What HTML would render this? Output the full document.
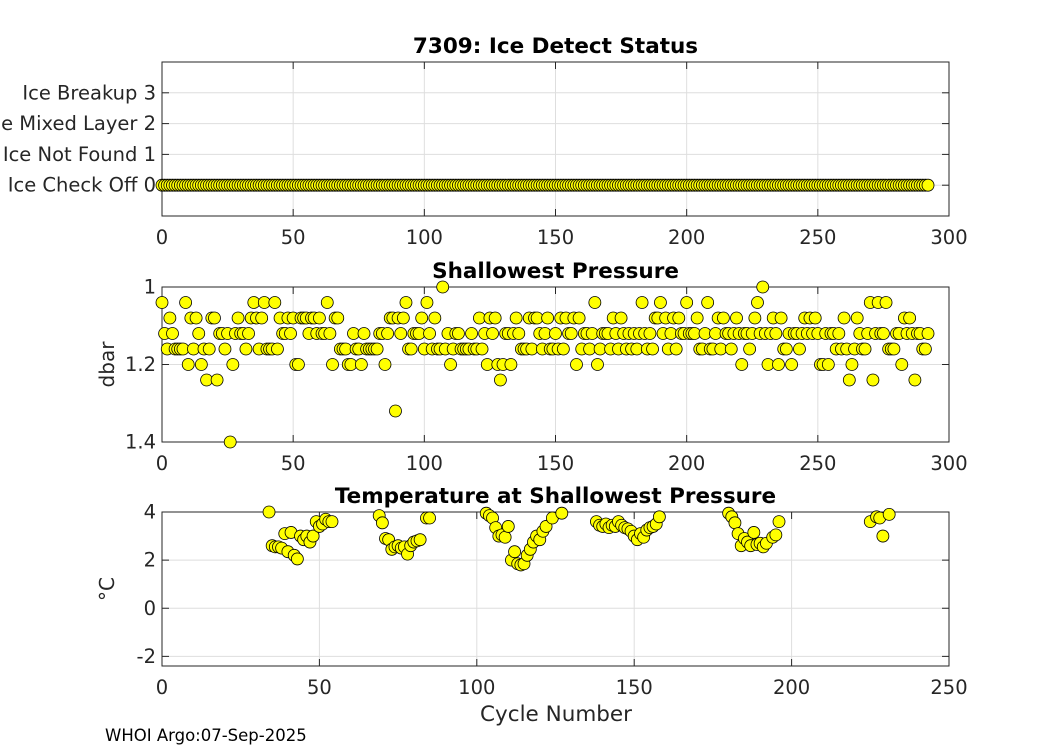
<!DOCTYPE html>
<html><head><meta charset="utf-8">
<style>
html,body{margin:0;padding:0;background:#fff;}
svg{display:block;font-family:"DejaVu Sans","Liberation Sans",sans-serif;}
</style></head>
<body>
<svg id="chart" width="1050" height="750" viewBox="0 0 1050 750"></svg>
<script>
// ---- data ----
const iceCycles = Array.from({length:293},(_,i)=>i);
const iceStatus = iceCycles.map(()=>0);
const iceTickValues = [0,1,2,3];
const iceTickLabels = ["Ice Check Off 0","Ice Not Found 1","Ice Mixed Layer 2","Ice Breakup 3"];

const pressureValues = [
1.04,1.12,1.16,1.08,1.12,1.16,1.16,1.16,1.16,1.04,
1.2,1.08,1.16,1.08,1.12,1.2,1.16,1.24,1.16,1.08,
1.08,1.24,1.12,1.12,1.16,1.12,1.4,1.2,1.12,1.08,
1.12,1.12,1.16,1.12,1.08,1.04,1.08,1.16,1.08,1.04,
1.16,1.16,1.16,1.04,1.16,1.08,1.12,1.12,1.08,1.12,
1.08,1.2,1.2,1.08,1.08,1.08,1.12,1.08,1.08,1.12,
1.08,1.12,1.12,1.04,1.12,1.2,1.08,1.08,1.16,1.16,
1.16,1.2,1.2,1.12,1.16,1.16,1.2,1.12,1.16,1.16,
1.16,1.16,1.16,1.12,1.12,1.2,1.12,1.08,1.08,1.32,
1.08,1.12,1.08,1.04,1.16,1.16,1.12,1.12,1.12,1.08,
1.16,1.04,1.12,1.16,1.08,1.16,1.16,1.0,1.16,1.12,
1.2,1.16,1.12,1.12,1.16,1.16,1.16,1.16,1.12,1.16,
1.16,1.08,1.16,1.12,1.2,1.08,1.12,1.08,1.2,1.24,
1.2,1.12,1.12,1.2,1.12,1.08,1.12,1.16,1.16,1.16,
1.08,1.16,1.08,1.08,1.12,1.16,1.12,1.08,1.16,1.16,
1.12,1.16,1.08,1.16,1.08,1.12,1.12,1.08,1.2,1.08,
1.16,1.12,1.12,1.16,1.12,1.04,1.2,1.16,1.12,1.12,
1.12,1.16,1.08,1.12,1.16,1.08,1.12,1.16,1.12,1.16,
1.12,1.16,1.12,1.04,1.12,1.16,1.12,1.16,1.08,1.08,
1.04,1.12,1.08,1.16,1.12,1.08,1.16,1.08,1.12,1.12,
1.04,1.12,1.12,1.12,1.08,1.16,1.16,1.12,1.04,1.16,
1.16,1.12,1.08,1.16,1.08,1.12,1.12,1.16,1.12,1.08,
1.12,1.2,1.12,1.12,1.16,1.12,1.08,1.04,1.12,1.0,
1.12,1.2,1.12,1.08,1.12,1.2,1.08,1.16,1.16,1.12,
1.2,1.12,1.12,1.16,1.12,1.08,1.12,1.08,1.12,1.08,
1.12,1.2,1.2,1.12,1.2,1.12,1.12,1.16,1.12,1.16,
1.08,1.16,1.24,1.2,1.16,1.08,1.12,1.16,1.16,1.12,
1.04,1.24,1.12,1.04,1.12,1.12,1.04,1.16,1.16,1.16,
1.12,1.12,1.2,1.08,1.12,1.08,1.12,1.24,1.12,1.12,
1.16,1.16,1.12];
const pressureCycles = pressureValues.map((_,i)=>i);

const tempCycles = [34,35,36,37,38,39,40,41,42,43,44,45,46,47,48,49,50,51,52,53,54,
69,70,71,72,73,74,75,76,77,78,79,80,81,82,84,85,
103,104,105,106,107,108,109,110,111,112,113,114,115,116,117,118,119,120,121,122,124,127,
138,139,140,141,142,143,144,145,146,147,148,149,150,151,152,153,154,155,156,157,158,
180,181,182,183,184,185,186,187,188,189,190,191,192,194,195,196,
225,227,228,229,231];
const tempValues = [4.0,2.6,2.55,2.55,2.5,3.1,2.35,3.15,2.2,2.05,3.0,2.85,3.0,2.75,3.0,3.6,3.4,3.5,3.7,3.6,3.6,
3.85,3.55,2.9,2.85,2.45,2.55,2.6,2.5,2.55,2.25,2.6,2.75,2.8,2.85,3.75,3.75,
3.95,3.85,3.75,3.35,3.0,3.05,2.95,3.4,2.0,2.35,1.85,1.8,1.85,2.2,2.45,2.75,3.0,2.85,3.2,3.4,3.75,3.95,
3.6,3.45,3.4,3.5,3.35,3.45,3.4,3.6,3.45,3.35,3.3,3.2,3.0,2.85,3.1,2.95,3.25,3.35,3.4,3.5,3.8,
3.95,3.8,3.55,3.1,2.6,2.9,2.75,2.6,3.15,2.65,2.7,2.55,2.7,2.95,3.05,3.6,
3.6,3.8,3.75,3.0,3.9];

const xTicks300 = [0,50,100,150,200,250,300];
const xTicks250 = [0,50,100,150,200,250];
const pressTicks = [1,1.2,1.4];
const pressTickLabels = ["1","1.2","1.4"];
const tempTicks = [-2,0,2,4];

// ---- drawing ----
const svg = document.getElementById('chart');
const NS = 'http://www.w3.org/2000/svg';
function mk(tag, attrs, parent){
  const e = document.createElementNS(NS, tag);
  for (const k in attrs) e.setAttribute(k, attrs[k]);
  (parent||svg).appendChild(e);
  return e;
}
function scale(d0,d1,r0,r1){return v=>r0+(v-d0)*(r1-r0)/(d1-d0);}
const TICKFS = 19.5;

function panel(o){
  const g = mk('g',{});
  
  
  const X = scale(o.xd[0],o.xd[1],o.L,o.R);
  const Y = scale(o.yd[0],o.yd[1],o.B,o.T);
  mk('rect',{x:o.L,y:o.T,width:o.R-o.L,height:o.B-o.T,fill:'#fff'},g);
  o.xt.forEach(v=>{ const x=X(v);
    const l=mk('line',{x1:x,x2:x,y1:o.T,y2:o.B,stroke:'#dedede','stroke-width':1},g);
     
  });
  o.yt.forEach(v=>{ const y=Y(v);
    const l=mk('line',{x1:o.L,x2:o.R,y1:y,y2:y,stroke:'#dedede','stroke-width':1},g);
     
  });
  const box=mk('rect',{x:o.L,y:o.T,width:o.R-o.L,height:o.B-o.T,fill:'none',stroke:'#262626','stroke-width':1},g);
   
  o.xt.forEach(v=>{ const x=X(v);
    mk('line',{x1:x,x2:x,y1:o.B,y2:o.B-7,stroke:'#262626'},g);
    mk('line',{x1:x,x2:x,y1:o.T,y2:o.T+7,stroke:'#262626'},g);
    const t=mk('text',{x:x,y:o.B+28,'text-anchor':'middle','font-size':TICKFS,fill:'#262626'},g);
    t.textContent=v;
     
  });
  o.yt.forEach((v,i)=>{ const y=Y(v);
    mk('line',{x1:o.L,x2:o.L+7,y1:y,y2:y,stroke:'#262626'},g);
    mk('line',{x1:o.R,x2:o.R-7,y1:y,y2:y,stroke:'#262626'},g);
    const t=mk('text',{x:o.L-6,y:y+6.5,'text-anchor':'end','font-size':TICKFS,fill:'#262626'},g);
    t.textContent=o.yl[i];
     
  });
  const tt=mk('text',{x:(o.L+o.R)/2,y:o.T-9,'text-anchor':'middle','font-size':'21.5','font-weight':'bold',fill:'#000'},g);
  tt.textContent=o.title;
   
  if (o.ylabel){
    const yl=mk('text',{x:0,y:0,'text-anchor':'middle','font-size':'20',fill:'#262626',transform:`translate(${o.L-48},${(o.T+o.B)/2}) rotate(-90)`},g);
    yl.textContent=o.ylabel;
     
  }
  o.xs.forEach((xv,i)=>{
    const c=mk('circle',{cx:X(xv),cy:Y(o.ys[i]),r:6,fill:'#ffff00',stroke:'#000','stroke-width':0.8},g);
     
  });
}

panel({name:'ice-status-panel',L:162,R:949,T:62,B:216,xd:[0,300],yd:[-1,4],
  xt:xTicks300,yt:iceTickValues,yl:iceTickLabels,title:'7309: Ice Detect Status',
  xs:iceCycles,ys:iceStatus});
panel({name:'shallowest-pressure-panel',L:162,R:949,T:287,B:442,xd:[0,300],yd:[1.4,1.0],
  xt:xTicks300,yt:pressTicks,yl:pressTickLabels,title:'Shallowest Pressure',ylabel:'dbar',
  xs:pressureCycles,ys:pressureValues});
panel({name:'temperature-panel',L:162,R:949,T:512,B:666,xd:[0,250],yd:[-2.4,4],
  xt:xTicks250,yt:tempTicks,yl:tempTicks.map(String),title:'Temperature at Shallowest Pressure',ylabel:'°C',
  xs:tempCycles,ys:tempValues});

const xl=mk('text',{x:556,y:721,'text-anchor':'middle','font-size':'21.5',fill:'#262626'});
xl.textContent='Cycle Number';


const ft=mk('text',{x:105,y:741,'font-size':'16.5',fill:'#000'});
ft.textContent='WHOI Argo:07-Sep-2025';


</script>
</body></html>
